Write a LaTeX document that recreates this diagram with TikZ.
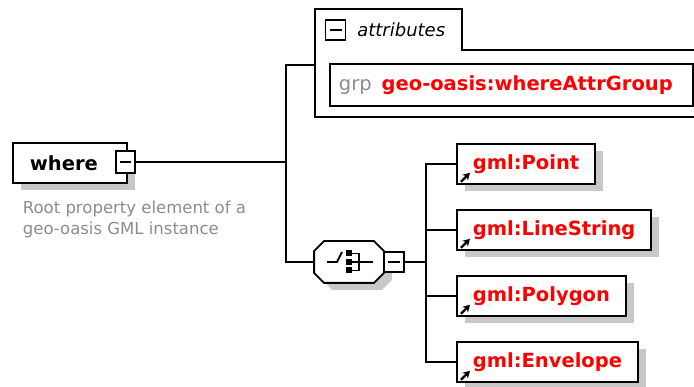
\documentclass[tikz,border=0pt]{standalone}
\usepackage{fontspec}
\setmainfont{DejaVu Sans}
\usetikzlibrary{arrows.meta, positioning, shadows}
\definecolor{xsdred}{RGB}{255,0,0}
\definecolor{xsdgray}{RGB}{140,140,140}
\definecolor{shadowgray}{RGB}{200,200,200}

\begin{document}
\begin{tikzpicture}[
    x=1pt, y=1pt,
    line width=1.8pt,
    node distance=24.2pt,
    myshadow/.style={drop shadow={shadow xshift=8pt, shadow yshift=-7pt, fill=shadowgray, opacity=1}},
    myelem/.style={rectangle, draw, fill=white, myshadow, minimum height=40pt, inner xsep=16pt, font=\fontsize{19.5}{22}\selectfont\bfseries},
    mychild/.style={myelem, text=xsdred, anchor=north west},
    mytoggle/.style={rectangle, draw, fill=white, minimum width=20pt, minimum height=20pt, inner sep=0pt,
        path picture={\draw ([xshift=4pt]path picture bounding box.west) -- ([xshift=-4pt]path picture bounding box.east);}},
    myref/.style={-{Stealth[length=7pt, width=8pt]}, line width=2.2pt}
]
\useasboundingbox (0,0) rectangle (694,-387);

% Root element
\node[myelem, anchor=north west, text width=80pt, align=left, inner xsep=17pt] (where) at (12,-142) {where};
\node[mytoggle, minimum width=19pt, minimum height=22pt] (wm) at (125.5,-162) {};
\node[anchor=north west, align=left, text=xsdgray, inner sep=2pt, font=\fontsize{16.5}{21.5}\selectfont] (note) at (20,-198) {Root property element of a\\geo-oasis GML instance};

% Attributes
\draw (700,-50) -- (462,-50) -- (462,-9) -- (315,-9) -- (315,-117) -- (700,-117);
\node[mytoggle] (am) at (335.5,-30) {};
\node[right=7pt of am, inner sep=3pt, font=\fontsize{18}{22}\selectfont\itshape] (attrlabel) {attributes};
\node[rectangle, draw, fill=white, anchor=north west, minimum height=42pt, text width=345pt, align=left, inner xsep=9pt, font=\fontsize{19.5}{22}\selectfont] (grp) at (329,-63) {{\color{xsdgray}grp}\hspace{10pt}{\color{xsdred}\bfseries geo-oasis:whereAttrGroup}};
\coordinate (attrin) at (315,-65);

% Choice
\node[minimum width=68pt, minimum height=40pt, inner sep=0pt] (choice) at (349,-262) {};
\draw[fill=white, myshadow] ([xshift=10pt]choice.north west) -- ([xshift=-10pt]choice.north east) -- ([yshift=-10pt]choice.north east) -- ([yshift=10pt]choice.south east) -- ([xshift=-10pt]choice.south east) -- ([xshift=10pt]choice.south west) -- ([yshift=10pt]choice.south west) -- ([yshift=-10pt]choice.north west) -- cycle;
\begin{scope}[shift={(choice.center)}]
    \draw (-22,0) -- (-12,0) -- (-7,10);
    \fill (-3,5.5) rectangle (3,11.5);
    \fill (-3,-3) rectangle (3,3);
    \fill (-3,-11.5) rectangle (3,-5.5);
    \draw (3,8.5) -- (10,8.5) -- (10,-8.5) -- (3,-8.5);
    \draw (3,0) -- (24,0);
\end{scope}
\node[mytoggle] (cm) at (394,-262) {};

% Children
\node[mychild] (pt) at (456,-143) {gml:Point};
\node[mychild, below=of pt.south west, anchor=north west] (ls) {gml:LineString};
\node[mychild, below=of ls.south west, anchor=north west] (pg) {gml:Polygon};
\node[mychild, below=of pg.south west, anchor=north west] (ev) {gml:Envelope};
\foreach \nm in {pt, ls, pg, ev}
    \draw[myref] ([shift={(5pt,3pt)}]\nm.south west) -- ++(9pt,9pt);

% Connectors
\coordinate (j1) at (286,-162);
\coordinate (j2) at (426,-262);
\draw (wm.east) -- (j1);
\draw (attrin) -| (j1) |- (choice.west);
\draw (cm.east) -- (j2);
\foreach \nm in {pt, ls, pg, ev}
    \draw (j2) |- (\nm.west);

\end{tikzpicture}
\end{document}
